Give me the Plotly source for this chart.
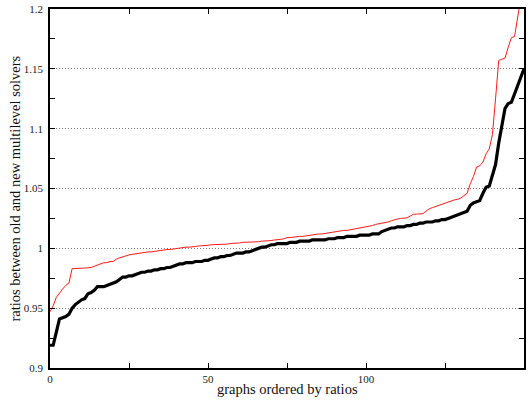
import plotly.graph_objects as go

graph_index = list(range(151))

ratio_black = [
    0.919, 0.919, 0.930, 0.941, 0.942, 0.943, 0.945, 0.950, 0.953, 0.955,
    0.957, 0.958, 0.962, 0.963, 0.965, 0.968, 0.968, 0.968, 0.969, 0.970,
    0.971, 0.972, 0.974, 0.976, 0.976, 0.977, 0.977, 0.978, 0.979, 0.980,
    0.980, 0.981, 0.981, 0.982, 0.982, 0.983, 0.983, 0.984, 0.984, 0.985,
    0.986, 0.987, 0.987, 0.988, 0.988, 0.988, 0.989, 0.989, 0.989, 0.990,
    0.990, 0.991, 0.992, 0.992, 0.993, 0.993, 0.994, 0.994, 0.995, 0.996,
    0.996, 0.996, 0.997, 0.997, 0.998, 0.999, 1.000, 1.001, 1.001, 1.002,
    1.003, 1.003, 1.004, 1.004, 1.004, 1.004, 1.005, 1.005, 1.005, 1.006,
    1.006, 1.006, 1.006, 1.007, 1.007, 1.007, 1.007, 1.007, 1.008, 1.008,
    1.008, 1.009, 1.009, 1.009, 1.010, 1.010, 1.010, 1.010, 1.011, 1.011,
    1.011, 1.011, 1.012, 1.012, 1.012, 1.014, 1.015, 1.016, 1.017, 1.017,
    1.018, 1.018, 1.018, 1.019, 1.019, 1.020, 1.020, 1.021, 1.021, 1.022,
    1.022, 1.022, 1.023, 1.023, 1.024, 1.024, 1.025, 1.026, 1.027, 1.028,
    1.029, 1.030, 1.031, 1.036, 1.038, 1.039, 1.040, 1.046, 1.051, 1.052,
    1.060, 1.070, 1.088, 1.102, 1.117, 1.121, 1.122, 1.129, 1.136, 1.143,
    1.150,
]

ratio_red = [
    0.947, 0.952, 0.959, 0.963, 0.966, 0.969, 0.971, 0.983, 0.983, 0.983,
    0.983, 0.9835, 0.9838, 0.984, 0.985, 0.986, 0.987, 0.988, 0.988, 0.989,
    0.989, 0.991, 0.992, 0.993, 0.994, 0.9945, 0.995, 0.9955, 0.996, 0.996,
    0.9965, 0.997, 0.997, 0.9975, 0.998, 0.998, 0.9985, 0.999, 0.999, 0.9995,
    1.000, 1.000, 1.0005, 1.001, 1.001, 1.001, 1.0015, 1.002, 1.002, 1.0025,
    1.0025, 1.003, 1.003, 1.003, 1.0035, 1.0035, 1.0035, 1.004, 1.004, 1.0045,
    1.0045, 1.005, 1.005, 1.005, 1.0055, 1.0055, 1.0055, 1.006, 1.006, 1.0065,
    1.0065, 1.007, 1.007, 1.0075, 1.008, 1.009, 1.009, 1.0095, 1.0095, 1.010,
    1.010, 1.0105, 1.011, 1.011, 1.0115, 1.012, 1.012, 1.0125, 1.013, 1.0135,
    1.014, 1.014, 1.0145, 1.015, 1.015, 1.0155, 1.016, 1.016, 1.0165, 1.017,
    1.0175, 1.018, 1.019, 1.020, 1.0205, 1.021, 1.021, 1.022, 1.023, 1.024,
    1.0245, 1.025, 1.025, 1.0255, 1.027, 1.0285, 1.0286, 1.029, 1.029, 1.031,
    1.033, 1.034, 1.035, 1.036, 1.037, 1.038, 1.039, 1.040, 1.0405, 1.041,
    1.042, 1.044, 1.046, 1.054, 1.060, 1.068, 1.069, 1.072, 1.079, 1.083,
    1.095, 1.125, 1.157, 1.158, 1.159, 1.168, 1.176, 1.177, 1.195, 1.210,
    1.225,
]

x_tick_vals = [0, 50, 100, 150]
x_tick_text = ["0", "50", "100", "150"]
y_tick_vals = [0.9, 0.95, 1.0, 1.05, 1.1, 1.15, 1.2]
y_tick_text = ["0.9", "0.95", "1", "1.05", "1.1", "1.15", "1.2"]

font_family = "Liberation Serif"

fig = go.Figure()
fig.add_trace(go.Scatter(
    x=graph_index, y=ratio_red, mode="lines",
    line=dict(color="#ff1a1a", width=1), showlegend=False,
))
fig.add_trace(go.Scatter(
    x=graph_index, y=ratio_black, mode="lines",
    line=dict(color="black", width=3.2), showlegend=False,
))

fig.update_layout(
    width=528, height=400,
    margin=dict(l=50, r=4, t=9, b=32, autoexpand=False),
    paper_bgcolor="white", plot_bgcolor="white",
    font=dict(family=font_family, size=11, color="#222"),
    xaxis=dict(
        range=[0, 150], tickmode="array", tickvals=x_tick_vals, ticktext=x_tick_text,
        ticks="inside", ticklen=5, tickcolor="black", showgrid=False,
        showline=True, linecolor="black", linewidth=1.5, mirror="ticks",
        zeroline=False, automargin=False, ticklabelstandoff=0,
        minor=dict(tickmode="array", tickvals=[25, 75, 125], ticks="inside", ticklen=5,
                   tickcolor="black", showgrid=False),
        tickfont=dict(size=11),
    ),
    yaxis=dict(
        range=[0.9, 1.2], tickmode="array", tickvals=y_tick_vals, ticktext=y_tick_text,
        ticks="inside", ticklen=5, tickcolor="black",
        showgrid=True, gridcolor="#777", griddash="1px,2px", gridwidth=1,
        showline=True, linecolor="black", linewidth=1.5, mirror="ticks",
        zeroline=False, automargin=False, ticklabelstandoff=3,
        minor=dict(tickmode="array", tickvals=[0.925, 0.975, 1.025, 1.075, 1.125, 1.175],
                   ticks="inside", ticklen=5, tickcolor="black", showgrid=False),
        tickfont=dict(size=11),
    ),
    annotations=[
        dict(text="graphs ordered by ratios", xref="paper", yref="paper",
             x=0.5, y=0, xanchor="center", yanchor="top", yshift=-11, showarrow=False,
             font=dict(size=14.5, color="#111")),
        dict(text="ratios between old and new multilevel solvers", xref="paper", yref="paper",
             x=0, y=0.5, xanchor="center", yanchor="middle", xshift=-36, showarrow=False,
             textangle=-90, font=dict(size=14.5, color="#111")),
    ],
)

fig.write_html("out.html", config={"displayModeBar": False},
               post_script="document.body.style.margin='0';document.body.style.overflow='hidden';")
